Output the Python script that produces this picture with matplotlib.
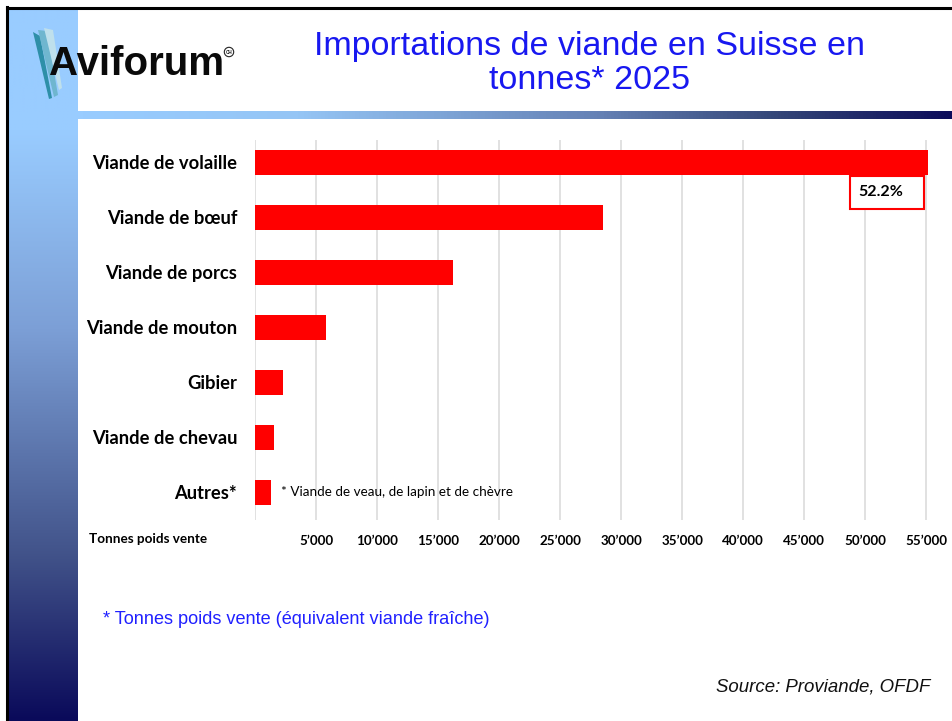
import numpy as np
from matplotlib import pyplot as plt
from matplotlib.colors import LinearSegmentedColormap
from matplotlib.patches import Polygon, Rectangle

W, H = 953, 721

categories = ['Viande de volaille', 'Viande de bœuf', 'Viande de porcs',
              'Viande de mouton', 'Gibier', 'Viande de chevau', 'Autres*']
tonnes = [55100, 28500, 16200, 5800, 2300, 1550, 1250]
tick_values = [5000, 10000, 15000, 20000, 25000, 30000,
               35000, 40000, 45000, 50000, 55000]
tick_labels = ['5’000', '10’000', '15’000', '20’000', '25’000', '30’000',
               '35’000', '40’000', '45’000', '50’000', '55’000']
share_label = '52.2%'

title = 'Importations de viande en Suisse en\ntonnes* 2025'
note_autres = '* Viande de veau, de lapin et de chèvre'
note_unit = '* Tonnes poids vente (équivalent viande fraîche)'
source = 'Source: Proviande, OFDF'

LABEL_FONT = ['Lato', 'DejaVu Sans']
ARIAL = ['Liberation Sans', 'DejaVu Sans']


def rect(x0, y0, x1, y1):
    # pixel box (top-left origin) -> figure fraction
    return [x0 / W, 1 - y1 / H, (x1 - x0) / W, (y1 - y0) / H]


def gradient_axes(fig, box, colors, vertical=True):
    ax = fig.add_axes(rect(*box))
    cmap = LinearSegmentedColormap.from_list('g', colors)
    g = np.linspace(0, 1, 256)
    img = g.reshape(-1, 1) if vertical else g.reshape(1, -1)
    ax.imshow(img, cmap=cmap, aspect='auto', interpolation='bilinear')
    ax.set_axis_off()
    return ax


fig = plt.figure(figsize=(W / 100, H / 100), dpi=100)
fig.patch.set_facecolor('white')

# left stripe and header bar
gradient_axes(fig, (8, 9, 78, 721),
              [(0.0, '#99CCFF'), (0.17, '#99CCFF'), (0.45, '#7C9FD6'),
               (0.77, '#415289'), (1.0, '#0A0A5A')])
gradient_axes(fig, (78, 110.5, 953, 119.5),
              [(0.0, '#99CCFF'), (0.25, '#95C5F5'), (0.6, '#6480B4'),
               (0.8, '#344678'), (1.0, '#0C0C5A')], vertical=False)

# black frame lines
fig.add_artist(plt.Line2D([7 / W, 1], [1 - 7.5 / H] * 2, color='black', lw=2.2))
fig.add_artist(plt.Line2D([7 / W] * 2, [0, 1 - 7 / H], color='black', lw=2.2))

# logo
logo = fig.add_axes([0, 0, 1, 1], zorder=1)
logo.set_xlim(0, W)
logo.set_ylim(H, 0)
logo.set_axis_off()
logo.patch.set_alpha(0)
for pts, c in [([(33, 32), (40, 36), (52, 98), (49, 99)], '#2E8FA8'),
               ([(38, 30), (47, 31), (58, 95), (54, 97)], '#6FB6CF'),
               ([(44, 28), (53, 30), (62, 88), (59, 90)], '#BFE0EC')]:
    logo.add_patch(Polygon(pts, closed=True, color=c, lw=0))
logo.text(49, 64, 'Aviforum', fontsize=29, fontweight='bold', color='#0A0A0A',
          family=ARIAL, ha='left', va='center')
logo.text(229, 52, 'CH', fontsize=3.3, fontweight='bold', color='#222222',
          family=ARIAL, ha='center', va='center',
          bbox=dict(boxstyle='circle,pad=0.3', fc='white', ec='#222222', lw=0.8))

# title and footnotes
fig.text(590 / W, 1 - 63.5 / H, title, fontsize=24.5, color='#1818F0',
         family=ARIAL, ha='center', va='center', linespacing=1.15)
fig.text(103 / W, 1 - 619 / H, note_unit, fontsize=13.1, color='#2020FF',
         family=ARIAL, ha='left', va='center')
fig.text(930 / W, 1 - 687 / H, source, fontsize=13.4, style='italic',
         color='#111111', family=ARIAL, ha='right', va='center')
fig.text(89 / W, 1 - 539 / H, 'Tonnes poids vente', fontsize=9.7,
         fontweight='bold', family=LABEL_FONT, ha='left', va='center')

# chart
ax = fig.add_axes(rect(255.3, 140, 931.2, 520))
y = np.arange(len(categories))
ax.barh(y, tonnes, height=25 / 55, color='#FF0000', zorder=3)
ax.set_xlim(0, 55400)
ax.set_ylim(6.5, -0.409)
ax.set_xticks([0] + tick_values)
ax.set_xticklabels([''] + tick_labels, fontweight='bold', fontsize=9.6,
                   family=LABEL_FONT)
ax.set_yticks(y)
ax.set_yticklabels(categories, fontweight='bold', fontsize=13.2,
                   family=LABEL_FONT)
ax.tick_params(axis='x', length=0, pad=11)
ax.tick_params(axis='y', length=0, pad=13)
ax.grid(axis='x', color='#D9D9D9', lw=1.1, zorder=0)
for s in ax.spines.values():
    s.set_visible(False)

ax.text(tonnes[-1] + 850, y[-1], note_autres, fontsize=9.7, family=LABEL_FONT,
        ha='left', va='center')

# share callout box: 74x33 px, centred below the end of the first bar
box_w, box_h = 74 / 61 * 5000, 33 / 55
box_x, box_y = 51780, 0.545
ax.add_patch(Rectangle((box_x - box_w / 2, box_y - box_h / 2), box_w, box_h,
                       fc='white', ec='#FF0000', lw=1.5, zorder=4))
ax.text(box_x - 550, box_y, share_label, fontsize=11.5, fontweight='bold',
        family=LABEL_FONT, ha='center', va='center', zorder=5)

fig.savefig('out.png', dpi=100)
